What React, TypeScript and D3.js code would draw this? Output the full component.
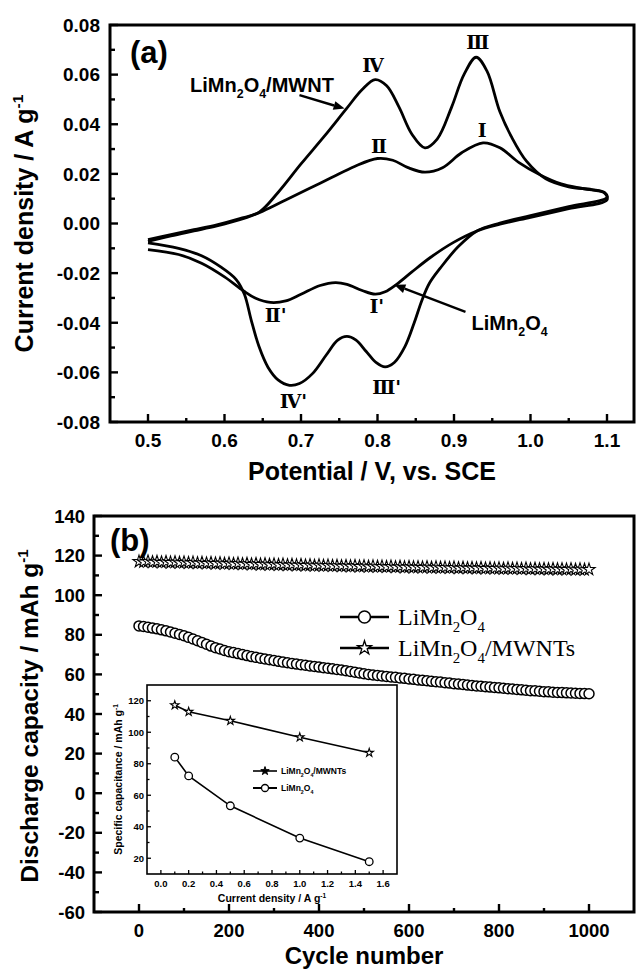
import React from 'react';
import * as d3 from 'd3';

const W = 638;
const H = 971;
const SANS = '"Liberation Sans", Arial, Helvetica, sans-serif';
const SERIF = '"Liberation Serif", "Times New Roman", "DejaVu Serif", serif';
const ROMAN = '"DejaVu Serif", "Liberation Serif", serif';

// ---- Panel (a): cyclic voltammograms, [potential (V vs. SCE), current density (A/g)] ----
const cvCompositeAnodic: [number, number][] = [
  [0.5, -0.0065], [0.53, -0.0045], [0.56, -0.0025], [0.59, -0.0005], [0.62, 0.002],
  [0.645, 0.0045], [0.67, 0.0125], [0.7, 0.024], [0.73, 0.035], [0.76, 0.0465],
  [0.78, 0.054], [0.797, 0.058], [0.812, 0.0555], [0.828, 0.047], [0.845, 0.036],
  [0.862, 0.0305], [0.878, 0.034], [0.897, 0.047], [0.913, 0.06], [0.929, 0.067],
  [0.943, 0.0615], [0.96, 0.045], [0.975, 0.035], [0.995, 0.025], [1.02, 0.018],
  [1.05, 0.0148], [1.08, 0.0137], [1.097, 0.0125],
];
const cvCompositeCathodic: [number, number][] = [
  [1.1, 0.0105], [1.05, 0.0068], [1.0, 0.0032], [0.96, 0.0002], [0.93, -0.003],
  [0.905, -0.0095], [0.882, -0.018], [0.868, -0.024], [0.858, -0.031], [0.848, -0.04],
  [0.836, -0.0495], [0.822, -0.056], [0.81, -0.0578], [0.798, -0.056], [0.785, -0.0515],
  [0.772, -0.047], [0.76, -0.0455], [0.748, -0.047], [0.733, -0.053], [0.715, -0.0605],
  [0.698, -0.0645], [0.685, -0.0652], [0.67, -0.063], [0.657, -0.058], [0.645, -0.0495],
  [0.635, -0.039], [0.626, -0.0285], [0.615, -0.0225], [0.595, -0.0175], [0.57, -0.013],
  [0.54, -0.01], [0.5, -0.0078],
];
const cvPristineAnodic: [number, number][] = [
  [0.5, -0.0072], [0.53, -0.005], [0.56, -0.003], [0.59, -0.001], [0.62, 0.0015],
  [0.65, 0.005], [0.68, 0.0095], [0.71, 0.014], [0.74, 0.0185], [0.77, 0.023],
  [0.8, 0.0262], [0.82, 0.0255], [0.84, 0.0225], [0.862, 0.0207], [0.885, 0.0225],
  [0.91, 0.0285], [0.938, 0.0325], [0.96, 0.0305], [0.985, 0.0245], [1.01, 0.02],
  [1.04, 0.016], [1.07, 0.014], [1.097, 0.0122],
];
const cvPristineCathodic: [number, number][] = [
  [1.1, 0.0095], [1.05, 0.006], [1.0, 0.0025], [0.96, -0.0003], [0.93, -0.003],
  [0.9, -0.0075], [0.87, -0.0135], [0.845, -0.0195], [0.825, -0.0245], [0.81, -0.0275],
  [0.797, -0.0285], [0.78, -0.027], [0.76, -0.0245], [0.745, -0.0238], [0.725, -0.025],
  [0.7, -0.0285], [0.68, -0.0312], [0.66, -0.0318], [0.64, -0.03], [0.625, -0.0272],
  [0.6, -0.0215], [0.57, -0.016], [0.54, -0.0125], [0.5, -0.0105],
];

const cvXTicks = [0.5, 0.6, 0.7, 0.8, 0.9, 1.0, 1.1];
const cvXTickLabels = ['0.5', '0.6', '0.7', '0.8', '0.9', '1.0', '1.1'];
const cvXMinor = [0.55, 0.65, 0.75, 0.85, 0.95, 1.05];
const cvYTicks = [0.08, 0.06, 0.04, 0.02, 0.0, -0.02, -0.04, -0.06, -0.08];
const cvYTickLabels = ['0.08', '0.06', '0.04', '0.02', '0.00', '-0.02', '-0.04', '-0.06', '-0.08'];
const cvYMinor = [0.07, 0.05, 0.03, 0.01, -0.01, -0.03, -0.05, -0.07];

// Redox peak labels: [text, potential, current]
const peakLabels: [string, number, number][] = [
  ['Ⅳ', 0.794, 0.0639],
  ['Ⅲ', 0.931, 0.0729],
  ['Ⅰ', 0.937, 0.0377],
  ['Ⅱ', 0.802, 0.031],
  ["Ⅱ'", 0.667, -0.0369],
  ["Ⅰ'", 0.799, -0.0335],
  ["Ⅳ'", 0.69, -0.0718],
  ["Ⅲ'", 0.812, -0.0658],
];

// ---- Panel (b): cycling stability ----
const cycleNumbers = [
  0, 10, 20, 30, 40, 50, 60, 70, 80, 90, 100, 110, 120, 130, 140, 150, 160, 170, 180, 190,
  200, 210, 220, 230, 240, 250, 260, 270, 280, 290, 300, 310, 320, 330, 340, 350, 360, 370, 380, 390,
  400, 410, 420, 430, 440, 450, 460, 470, 480, 490, 500, 510, 520, 530, 540, 550, 560, 570, 580, 590,
  600, 610, 620, 630, 640, 650, 660, 670, 680, 690, 700, 710, 720, 730, 740, 750, 760, 770, 780, 790,
  800, 810, 820, 830, 840, 850, 860, 870, 880, 890, 900, 910, 920, 930, 940, 950, 960, 970, 980, 990, 1000,
];
const capacityPristine = [
  84.5, 84.2, 83.8, 83.4, 83.0, 82.5, 82.0, 81.4, 80.8, 80.2, 79.5, 78.7, 77.9, 77.0, 76.1, 75.2, 74.3, 73.5, 72.8, 72.1,
  71.5, 71.0, 70.5, 70.0, 69.5, 69.0, 68.6, 68.2, 67.8, 67.4, 67.0, 66.6, 66.2, 65.9, 65.5, 65.2, 64.9, 64.6, 64.3, 64.0,
  63.7, 63.4, 63.1, 62.8, 62.5, 62.2, 61.9, 61.5, 61.1, 60.7, 60.3, 60.0, 59.7, 59.5, 59.2, 59.0, 58.7, 58.5, 58.2, 58.0,
  57.7, 57.5, 57.2, 57.0, 56.8, 56.5, 56.3, 56.1, 55.8, 55.6, 55.3, 55.1, 54.9, 54.6, 54.4, 54.2, 54.0, 53.8, 53.6, 53.4,
  53.2, 53.0, 52.8, 52.6, 52.4, 52.2, 52.0, 51.8, 51.7, 51.5, 51.3, 51.2, 51.0, 50.9, 50.8, 50.7, 50.6, 50.5, 50.4, 50.3, 50.2,
];
const capacityComposite = [
  117.0, 116.8, 117.1, 116.7, 116.9, 116.6, 116.8, 116.5, 116.7, 116.4, 116.6,
  116.3, 116.5, 116.2, 116.4, 116.1, 116.3, 116.0, 116.2, 115.9, 116.1,
  115.8, 116.0, 115.7, 115.9, 115.6, 115.8, 115.5, 115.7, 115.4, 115.6,
  115.3, 115.5, 115.2, 115.4, 115.1, 115.3, 115.0, 115.2, 114.9, 115.1,
  114.9, 115.0, 114.8, 114.9, 114.7, 114.8, 114.6, 114.8, 114.5, 114.7,
  114.4, 114.6, 114.4, 114.5, 114.3, 114.5, 114.2, 114.4, 114.1, 114.3,
  114.1, 114.2, 114.0, 114.2, 113.9, 114.1, 113.9, 114.0, 113.8, 114.0,
  113.7, 113.9, 113.7, 113.8, 113.6, 113.8, 113.5, 113.7, 113.5, 113.6,
  113.4, 113.6, 113.4, 113.5, 113.3, 113.5, 113.2, 113.4, 113.2, 113.3,
  113.1, 113.3, 113.1, 113.2, 113.0, 113.2, 112.9, 113.1, 112.9, 113.0,
];
const capXTicks = [0, 200, 400, 600, 800, 1000];
const capXMinor = [100, 300, 500, 700, 900];
const capYTicks = [140, 120, 100, 80, 60, 40, 20, 0, -20, -40, -60];
const capYMinor = [130, 110, 90, 70, 50, 30, 10, -10, -30, -50];

// ---- Inset: rate capability ----
const rateCurrent = [0.1, 0.2, 0.5, 1.0, 1.5];
const rateComposite = [117.2, 113.0, 107.3, 96.8, 87.0];
const ratePristine = [84.2, 72.3, 53.3, 32.8, 17.8];
const insetXTicks = [0, 0.2, 0.4, 0.6, 0.8, 1.0, 1.2, 1.4, 1.6];
const insetXTickLabels = ['0.0', '0.2', '0.4', '0.6', '0.8', '1.0', '1.2', '1.4', '1.6'];
const insetXMinor = [0.1, 0.3, 0.5, 0.7, 0.9, 1.1, 1.3, 1.5];
const insetYTicks = [20, 40, 60, 80, 100, 120];
const insetYMinor = [30, 50, 70, 90, 110];

type Seg = { t: string; s?: 'sub' | 'sup' };

function Rich({ segs, fs, ...rest }: { segs: Seg[]; fs: number; [k: string]: any }) {
  let shift = 0;
  const spans = segs.map((seg, i) => {
    const target = seg.s === 'sub' ? fs * 0.3 : seg.s === 'sup' ? -fs * 0.42 : 0;
    const dy = target - shift;
    shift = target;
    return (
      <tspan key={i} dy={dy} fontSize={seg.s ? fs * 0.62 : fs}>
        {seg.t}
      </tspan>
    );
  });
  return (
    <text fontSize={fs} {...rest}>
      {spans}
    </text>
  );
}

const limn: Seg[] = [{ t: 'LiMn' }, { t: '2', s: 'sub' }, { t: 'O' }, { t: '4', s: 'sub' }];

function Arrow({ x1, y1, x2, y2, head = 11, half = 4.5, sw = 2.4 }: any) {
  const a = Math.atan2(y2 - y1, x2 - x1);
  const bx = x2 - head * Math.cos(a);
  const by = y2 - head * Math.sin(a);
  const px = -Math.sin(a) * half;
  const py = Math.cos(a) * half;
  return (
    <g>
      <line x1={x1} y1={y1} x2={bx} y2={by} stroke="#000" strokeWidth={sw} />
      <polygon points={`${x2},${y2} ${bx + px},${by + py} ${bx - px},${by - py}`} fill="#000" />
    </g>
  );
}

export default function App() {
  // Panel (a) scales
  const cvX = d3.scaleLinear().domain([0.5, 1.1]).range([148, 607]);
  const cvY = d3.scaleLinear().domain([-0.08, 0.08]).range([422, 25]);
  const aL = 110, aR = 634, aT = 25, aB = 422;

  const cvLine = d3
    .line<[number, number]>()
    .x((d) => cvX(d[0]))
    .y((d) => cvY(d[1]))
    .curve(d3.curveCatmullRom.alpha(0.5));
  const compositeLoop = cvLine([...cvCompositeAnodic, ...cvCompositeCathodic]) || '';
  const pristineLoop = cvLine([...cvPristineAnodic, ...cvPristineCathodic]) || '';

  // Panel (b) scales
  const capX = d3.scaleLinear().domain([-100, 1100]).range([94, 634]);
  const capY = d3.scaleLinear().domain([-60, 140]).range([912, 516]);
  const bL = 94, bR = 634, bT = 516, bB = 912;

  const capLine = d3
    .line<number>()
    .x((_, i) => capX(cycleNumbers[i]))
    .y((d) => capY(d));

  // Inset scales
  const inX = d3.scaleLinear().domain([-0.1, 1.7]).range([147, 397]);
  const inY = d3.scaleLinear().domain([10, 130]).range([874, 685]);
  const iL = 147, iR = 397, iT = 685, iB = 874;
  const inLine = d3
    .line<number>()
    .x((_, i) => inX(rateCurrent[i]))
    .y((d) => inY(d));

  const star = (size: number) => d3.symbol(d3.symbolStar, size)() || '';
  const mainStar = star(46);
  const inStar = star(22);
  const legendStar = star(60);

  return (
    <svg
      width={W}
      height={H}
      viewBox={`0 0 ${W} ${H}`}
      style={{ position: 'absolute', left: 0, top: 0, background: '#fff' }}
    >
      <rect x={0} y={0} width={W} height={H} fill="#fff" />

      {/* ================= Panel (a) ================= */}
      <g fontFamily={SANS} fill="#000">
        {cvYTicks.map((v, i) => (
          <g key={'ay' + i}>
            <line x1={aL} x2={aL + 8} y1={cvY(v)} y2={cvY(v)} stroke="#000" strokeWidth={2.4} />
            <text x={aL - 10} y={cvY(v)} dy="0.36em" textAnchor="end" fontSize={19} fontWeight="bold">
              {cvYTickLabels[i]}
            </text>
          </g>
        ))}
        {cvYMinor.map((v, i) => (
          <line key={'aym' + i} x1={aL} x2={aL + 5} y1={cvY(v)} y2={cvY(v)} stroke="#000" strokeWidth={2.4} />
        ))}
        {cvXTicks.map((v, i) => (
          <g key={'ax' + i}>
            <line x1={cvX(v)} x2={cvX(v)} y1={aB} y2={aB - 8} stroke="#000" strokeWidth={2.4} />
            <text x={cvX(v)} y={447} textAnchor="middle" fontSize={19} fontWeight="bold">
              {cvXTickLabels[i]}
            </text>
          </g>
        ))}
        {cvXMinor.map((v, i) => (
          <line key={'axm' + i} x1={cvX(v)} x2={cvX(v)} y1={aB} y2={aB - 4} stroke="#000" strokeWidth={2.4} />
        ))}

        <path d={pristineLoop} fill="none" stroke="#000" strokeWidth={2.8} strokeLinejoin="round" />
        <path d={compositeLoop} fill="none" stroke="#000" strokeWidth={2.8} strokeLinejoin="round" />

        <rect x={aL} y={aT} width={aR - aL} height={aB - aT} fill="none" stroke="#000" strokeWidth={3} />

        <text x={130} y={63} fontSize={31} fontWeight="bold">
          (a)
        </text>

        {peakLabels.map(([t, v, c], i) => (
          <text
            key={'pk' + i}
            x={cvX(v)}
            y={cvY(c)}
            dy="0.36em"
            textAnchor="middle"
            fontFamily={ROMAN}
            fontWeight="bold"
            fontSize={19}
          >
            {t}
          </text>
        ))}

        <Rich
          segs={[...limn, { t: '/MWNT' }]}
          fs={20}
          x={cvX(0.555)}
          y={cvY(0.053)}
          fontWeight="bold"
        />
        <Arrow x1={cvX(0.698)} y1={cvY(0.0517)} x2={cvX(0.757)} y2={cvY(0.0463)} />

        <Rich segs={limn} fs={20} x={cvX(0.923)} y={cvY(-0.0429)} fontWeight="bold" />
        <Arrow x1={cvX(0.915)} y1={cvY(-0.0356)} x2={cvX(0.822)} y2={cvY(-0.0247)} />

        <text x={(aL + aR) / 2} y={480} textAnchor="middle" fontSize={25} fontWeight="bold">
          Potential / V, vs. SCE
        </text>
        <Rich
          segs={[{ t: 'Current density / A g' }, { t: '-1', s: 'sup' }]}
          fs={25}
          fontWeight="bold"
          textAnchor="middle"
          transform={`translate(33, ${(aT + aB) / 2}) rotate(-90)`}
        />
      </g>

      {/* ================= Panel (b) ================= */}
      <g fontFamily={SANS} fill="#000">
        {capYTicks.map((v, i) => (
          <g key={'by' + i}>
            <line x1={bL} x2={bL + 8} y1={capY(v)} y2={capY(v)} stroke="#000" strokeWidth={2.4} />
            <text x={bL - 9} y={capY(v)} dy="0.36em" textAnchor="end" fontSize={18.5} fontWeight="bold">
              {v}
            </text>
          </g>
        ))}
        {capYMinor.map((v, i) => (
          <line key={'bym' + i} x1={bL} x2={bL + 5} y1={capY(v)} y2={capY(v)} stroke="#000" strokeWidth={2.4} />
        ))}
        {capXTicks.map((v, i) => (
          <g key={'bx' + i}>
            <line x1={capX(v)} x2={capX(v)} y1={bB} y2={bB - 8} stroke="#000" strokeWidth={2.4} />
            <text x={capX(v)} y={937} textAnchor="middle" fontSize={18.5} fontWeight="bold">
              {v}
            </text>
          </g>
        ))}
        {capXMinor.map((v, i) => (
          <line key={'bxm' + i} x1={capX(v)} x2={capX(v)} y1={bB} y2={bB - 4} stroke="#000" strokeWidth={2.4} />
        ))}

        <path d={capLine(capacityPristine) || ''} fill="none" stroke="#000" strokeWidth={1.5} />
        {capacityPristine.map((v, i) => (
          <circle
            key={'cp' + i}
            cx={capX(cycleNumbers[i])}
            cy={capY(v)}
            r={5}
            fill="#fff"
            stroke="#000"
            strokeWidth={1.5}
          />
        ))}
        <path d={capLine(capacityComposite) || ''} fill="none" stroke="#000" strokeWidth={1.5} />
        {capacityComposite.map((v, i) => (
          <path
            key={'cc' + i}
            d={mainStar}
            transform={`translate(${capX(cycleNumbers[i])}, ${capY(v)})`}
            fill="#fff"
            stroke="#000"
            strokeWidth={1.1}
          />
        ))}

        <rect x={bL} y={bT} width={bR - bL} height={bB - bT} fill="none" stroke="#000" strokeWidth={3} />

        <text x={110} y={551} fontSize={31} fontWeight="bold">
          (b)
        </text>

        {/* legend */}
        <line x1={340} x2={389} y1={617} y2={617} stroke="#000" strokeWidth={2.6} />
        <circle cx={364.5} cy={617} r={6} fill="#fff" stroke="#000" strokeWidth={1.6} />
        <Rich segs={limn} fs={24} x={398} y={625} fontFamily={SERIF} />
        <line x1={340} x2={389} y1={648} y2={648} stroke="#000" strokeWidth={2.6} />
        <path d={legendStar} transform="translate(364.5, 648)" fill="#fff" stroke="#000" strokeWidth={1.3} />
        <Rich segs={[...limn, { t: '/MWNTs' }]} fs={24} x={398} y={656} fontFamily={SERIF} />

        <text x={(bL + bR) / 2} y={964} textAnchor="middle" fontSize={24} fontWeight="bold">
          Cycle number
        </text>
        <Rich
          segs={[{ t: 'Discharge capacity / mAh g' }, { t: '-1', s: 'sup' }]}
          fs={24.5}
          fontWeight="bold"
          textAnchor="middle"
          transform={`translate(38, ${(bT + bB) / 2 + 2}) rotate(-90)`}
        />
      </g>

      {/* ================= Inset ================= */}
      <g fontFamily={SANS} fill="#000">
        <rect x={iL} y={iT} width={iR - iL} height={iB - iT} fill="#fff" stroke="#000" strokeWidth={1.6} />
        {insetYTicks.map((v, i) => (
          <g key={'iy' + i}>
            <line x1={iL} x2={iL + 4} y1={inY(v)} y2={inY(v)} stroke="#000" strokeWidth={1.3} />
            <text x={iL - 3} y={inY(v)} dy="0.36em" textAnchor="end" fontSize={9.5} fontWeight="bold">
              {v}
            </text>
          </g>
        ))}
        {insetYMinor.map((v, i) => (
          <line key={'iym' + i} x1={iL} x2={iL + 2.5} y1={inY(v)} y2={inY(v)} stroke="#000" strokeWidth={1.3} />
        ))}
        {insetXTicks.map((v, i) => (
          <g key={'ix' + i}>
            <line x1={inX(v)} x2={inX(v)} y1={iB} y2={iB - 4} stroke="#000" strokeWidth={1.3} />
            <text x={inX(v)} y={887} textAnchor="middle" fontSize={9.5} fontWeight="bold">
              {insetXTickLabels[i]}
            </text>
          </g>
        ))}
        {insetXMinor.map((v, i) => (
          <line key={'ixm' + i} x1={inX(v)} x2={inX(v)} y1={iB} y2={iB - 2.5} stroke="#000" strokeWidth={1.3} />
        ))}

        <path d={inLine(rateComposite) || ''} fill="none" stroke="#000" strokeWidth={1.6} />
        {rateComposite.map((v, i) => (
          <path
            key={'rc' + i}
            d={inStar}
            transform={`translate(${inX(rateCurrent[i])}, ${inY(v)})`}
            fill="#fff"
            stroke="#000"
            strokeWidth={1.1}
          />
        ))}
        <path d={inLine(ratePristine) || ''} fill="none" stroke="#000" strokeWidth={1.6} />
        {ratePristine.map((v, i) => (
          <circle
            key={'rp' + i}
            cx={inX(rateCurrent[i])}
            cy={inY(v)}
            r={3.8}
            fill="#fff"
            stroke="#000"
            strokeWidth={1.3}
          />
        ))}

        {/* inset legend */}
        <line x1={253} x2={277} y1={771} y2={771} stroke="#000" strokeWidth={1.6} />
        <path d={inStar} transform="translate(265, 771)" fill="#000" stroke="#000" strokeWidth={1} />
        <Rich segs={[...limn, { t: '/MWNTs' }]} fs={8.5} x={281} y={774} fontWeight="bold" />
        <line x1={253} x2={277} y1={788} y2={788} stroke="#000" strokeWidth={2} />
        <circle cx={265} cy={788} r={3.5} fill="#fff" stroke="#000" strokeWidth={1.3} />
        <Rich segs={limn} fs={8.5} x={281} y={791} fontWeight="bold" />

        <Rich
          segs={[{ t: 'Current density / A g' }, { t: '-1', s: 'sup' }]}
          fs={10.5}
          fontWeight="bold"
          textAnchor="middle"
          x={(iL + iR) / 2}
          y={902}
        />
        <Rich
          segs={[{ t: 'Specific capacitance / mAh g' }, { t: '-1', s: 'sup' }]}
          fs={10.5}
          fontWeight="bold"
          textAnchor="middle"
          transform={`translate(122, ${(iT + iB) / 2}) rotate(-90)`}
        />
      </g>
    </svg>
  );
}
